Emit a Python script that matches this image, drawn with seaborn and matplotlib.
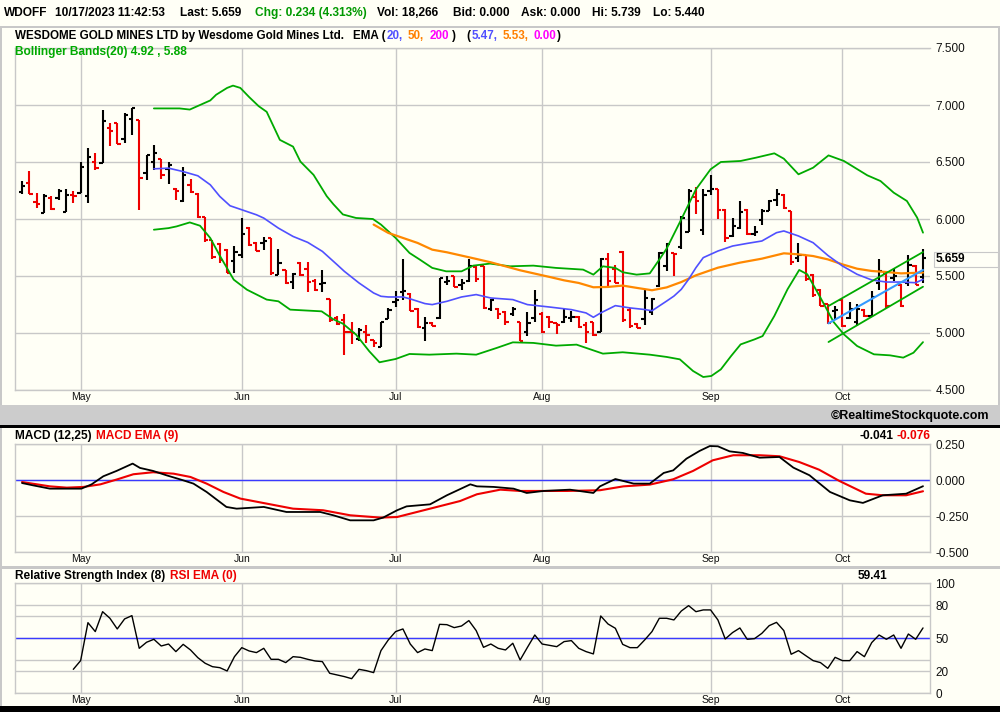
import numpy as np
import pandas as pd
import matplotlib
matplotlib.use("Agg")
import matplotlib.pyplot as plt
import seaborn as sns
from matplotlib.patches import Rectangle

# ---- daily bars (index 0 = first bar on the chart, last = 10/17/2023) ----
bar_open = [6.24, 6.32, 6.15, 6.05, 6.18, 6.18, 6.06, 6.21, 6.23, 6.20,
            6.50, 6.49, 6.80, 6.84, 6.70, 6.88, 6.87, 6.40, 6.50, 6.53,
            6.44, 6.26, 6.16, 6.30, 6.22, 6.02, 5.82, 5.78, 5.73, 5.63,
            5.68, 5.92, 5.79, 5.79, 5.83, 5.51, 5.55, 5.45, 5.61, 5.56,
            5.46, 5.43, 5.30, 5.13, 5.11, 5.01, 4.95, 5.01, 4.94, 4.88,
            5.12, 5.27, 5.36, 5.34, 5.21, 5.04, 5.09, 5.13, 5.45, 5.50,
            5.42, 5.46, 5.58, 5.59, 5.21, 5.21, 5.18, 5.17, 5.10, 5.01,
            5.13, 5.17, 5.14, 5.09, 5.10, 5.13, 5.14, 5.07, 5.10, 5.01,
            5.65, 5.56, 5.71, 5.20, 5.08, 5.12, 5.18, 5.41, 5.59, 5.70,
            5.75, 5.89, 6.19, 5.90, 6.25, 6.26, 6.08, 5.85, 5.92, 6.08,
            5.87, 5.99, 6.07, 6.17, 6.21, 6.07, 5.66, 5.68, 5.51, 5.38,
            5.25, 5.19, 5.29, 5.13, 5.10, 5.20, 5.15, 5.44, 5.53, 5.48,
            5.42, 5.44, 5.59, 5.49]
bar_high = [6.33, 6.42, 6.23, 6.22, 6.20, 6.26, 6.26, 6.25, 6.50, 6.62,
            6.58, 6.96, 6.84, 6.84, 6.93, 6.97, 6.87, 6.56, 6.65, 6.53,
            6.50, 6.27, 6.46, 6.35, 6.23, 6.02, 5.82, 5.79, 5.74, 5.76,
            6.01, 5.93, 5.80, 5.84, 5.83, 5.74, 5.55, 5.53, 5.62, 5.62,
            5.47, 5.55, 5.30, 5.15, 5.17, 5.10, 5.04, 5.07, 4.94, 5.10,
            5.22, 5.37, 5.65, 5.35, 5.22, 5.14, 5.10, 5.48, 5.50, 5.50,
            5.47, 5.65, 5.59, 5.59, 5.30, 5.22, 5.19, 5.23, 5.10, 5.18,
            5.38, 5.18, 5.15, 5.09, 5.22, 5.19, 5.15, 5.10, 5.10, 5.66,
            5.70, 5.60, 5.72, 5.22, 5.09, 5.39, 5.31, 5.71, 5.79, 5.70,
            6.03, 6.26, 6.28, 6.26, 6.39, 6.26, 6.09, 6.01, 6.16, 6.09,
            5.94, 6.09, 6.17, 6.26, 6.22, 6.07, 5.79, 5.68, 5.52, 5.39,
            5.25, 5.24, 5.30, 5.27, 5.25, 5.21, 5.37, 5.65, 5.54, 5.57,
            5.43, 5.68, 5.60, 5.739]
bar_low = [6.22, 6.22, 6.10, 6.05, 6.08, 6.17, 6.06, 6.14, 6.23, 6.14,
           6.43, 6.49, 6.64, 6.66, 6.67, 6.74, 6.08, 6.34, 6.43, 6.35,
           6.31, 6.17, 6.15, 6.23, 6.01, 5.80, 5.65, 5.61, 5.53, 5.53,
           5.66, 5.76, 5.72, 5.73, 5.51, 5.51, 5.43, 5.39, 5.50, 5.36,
           5.37, 5.36, 5.10, 5.07, 4.81, 4.90, 4.93, 4.91, 4.88, 4.88,
           5.12, 5.23, 5.29, 5.19, 5.04, 4.93, 5.06, 5.12, 5.42, 5.40,
           5.38, 5.45, 5.45, 5.21, 5.19, 5.12, 5.07, 5.15, 4.93, 4.97,
           5.10, 5.00, 5.04, 4.99, 5.09, 5.10, 5.04, 4.91, 4.97, 5.01,
           5.41, 5.44, 5.10, 5.04, 5.04, 5.07, 5.16, 5.40, 5.54, 5.50,
           5.74, 5.89, 6.04, 5.86, 6.21, 6.00, 5.80, 5.84, 5.91, 5.86,
           5.85, 5.95, 6.07, 6.11, 6.09, 5.60, 5.62, 5.46, 5.32, 5.24,
           5.08, 5.12, 5.05, 5.12, 5.06, 5.14, 5.14, 5.38, 5.22, 5.46,
           5.23, 5.41, 5.42, 5.44]
bar_close = [6.29, 6.22, 6.13, 6.20, 6.09, 6.25, 6.21, 6.20, 6.46, 6.54,
             6.45, 6.86, 6.77, 6.66, 6.91, 6.97, 6.36, 6.56, 6.58, 6.39,
             6.47, 6.25, 6.39, 6.24, 6.02, 5.82, 5.67, 5.64, 5.53, 5.71,
             5.87, 5.77, 5.72, 5.81, 5.53, 5.61, 5.44, 5.52, 5.505, 5.45,
             5.38, 5.44, 5.11, 5.08, 5.01, 5.00, 5.03, 4.98, 4.91, 5.10,
             5.20, 5.29, 5.37, 5.19, 5.05, 5.09, 5.06, 5.48, 5.46, 5.40,
             5.44, 5.59, 5.47, 5.22, 5.29, 5.17, 5.10, 5.21, 4.93, 5.09,
             5.29, 5.01, 5.10, 5.07, 5.14, 5.14, 5.05, 5.01, 4.98, 5.65,
             5.46, 5.44, 5.11, 5.06, 5.04, 5.31, 5.30, 5.70, 5.78, 5.69,
             6.01, 6.25, 6.16, 6.21, 6.26, 6.08, 5.83, 5.94, 6.06, 5.87,
             5.89, 6.07, 6.16, 6.22, 6.10, 5.62, 5.68, 5.47, 5.33, 5.24,
             5.09, 5.20, 5.06, 5.21, 5.21, 5.15, 5.32, 5.54, 5.24, 5.50,
             5.24, 5.60, 5.425, 5.659]
# u = black bar, d = red bar
bar_dir = ("udduduuduu" "dudduuduud" "ududdddddu" "uddudududd"
           "dudddduddu" "uuudduduud" "uudduddudu" "uddduudddu"
           "ddddduuuud" "uuduudduud" "uuuudduddd" "duduuduudu"
           "dudu")

# ---- indicator lines: (bar index, value) ----
ema20 = [(18, 6.44), (20, 6.446), (22, 6.416), (24, 6.379), (25.7, 6.30), (27, 6.198),
         (28.4, 6.116), (30, 6.081), (32, 6.037), (33, 6.008), (35, 5.92), (37, 5.847),
         (39, 5.795), (41, 5.716), (43, 5.60), (44, 5.541), (46, 5.439), (48, 5.351),
         (49, 5.322), (50, 5.316), (52, 5.316), (53, 5.299), (55, 5.258), (56, 5.249),
         (58, 5.278), (60, 5.316), (62, 5.337), (64, 5.307), (67, 5.293), (69, 5.249),
         (72, 5.228), (75, 5.205), (77, 5.176), (78, 5.138), (79, 5.176), (81, 5.24),
         (83, 5.22), (85, 5.206), (86, 5.195), (88, 5.28), (89, 5.324), (90, 5.383),
         (91, 5.471), (92, 5.573), (93, 5.661), (95, 5.719), (97, 5.763), (99, 5.786),
         (101, 5.807), (103, 5.88), (104, 5.895), (106, 5.851), (108, 5.792), (110, 5.681),
         (112, 5.588), (114, 5.515), (116, 5.465), (118, 5.447), (120, 5.447), (122, 5.441),
         (123, 5.47)]
ema50 = [(48, 5.951), (50, 5.878), (52, 5.834), (54, 5.79), (56, 5.731), (58, 5.708),
         (60, 5.679), (62, 5.65), (64, 5.62), (66, 5.585), (68, 5.55), (70, 5.521),
         (72, 5.492), (74, 5.462), (76, 5.439), (78, 5.401), (80, 5.404), (82, 5.416),
         (84, 5.395), (86, 5.375), (88, 5.40), (90, 5.447), (92, 5.506), (95, 5.573),
         (98, 5.617), (101, 5.652), (104, 5.699), (106, 5.69), (108, 5.675), (110, 5.646),
         (112, 5.602), (114, 5.564), (116, 5.544), (118, 5.535), (120, 5.523), (123, 5.53)]
bb_upper = [(18, 6.97), (21.5, 6.97), (22.9, 6.96), (24.3, 7.0), (25.7, 7.04), (26.5, 7.09),
            (28.0, 7.15), (28.8, 7.17), (29.8, 7.15), (31.0, 7.07), (32.3, 6.99), (33.4, 6.94),
            (35.2, 6.694), (37, 6.635), (38, 6.504), (39.8, 6.387), (41.6, 6.20), (42.5, 6.13),
            (43.8, 6.04), (45.6, 6.009), (47.9, 6.0), (49, 5.951), (51, 5.834), (52.9, 5.702),
            (54.3, 5.644), (56, 5.571), (57.9, 5.541), (60, 5.541), (61.6, 5.591), (63.9, 5.609),
            (66.6, 5.585), (69.8, 5.591), (72.9, 5.571), (76.6, 5.556), (78, 5.512), (79.3, 5.585),
            (81, 5.571), (82, 5.533), (83.9, 5.512), (85.7, 5.523), (87, 5.644), (88, 5.74),
            (90, 5.997), (92, 6.26), (94, 6.436), (95.4, 6.5), (98.1, 6.509), (100.2, 6.538),
            (102.7, 6.576), (104, 6.529), (106, 6.392), (108, 6.45), (110.1, 6.558), (112.2, 6.509),
            (115.4, 6.383), (117.2, 6.333), (119, 6.231), (120.8, 6.158), (122.2, 6.012), (123, 5.88)]
bb_lower = [(18, 5.906), (20, 5.92), (21.1, 5.935), (22.9, 5.97), (24.3, 5.941), (25.7, 5.833),
            (27, 5.678), (28.9, 5.468), (30.7, 5.38), (33.4, 5.293), (35, 5.278), (36.6, 5.205),
            (38, 5.2), (40.9, 5.19), (42.5, 5.12), (43.8, 5.082), (45.6, 4.986), (47.4, 4.84),
            (48.8, 4.743), (51, 4.772), (52.9, 4.816), (55.6, 4.81), (59.3, 4.819), (62, 4.81),
            (64.8, 4.869), (67, 4.918), (69.8, 4.913), (72.9, 4.889), (75.7, 4.898), (79.3, 4.819),
            (82, 4.831), (85.7, 4.81), (88, 4.79), (89.8, 4.769), (91.6, 4.667), (93, 4.614),
            (94.1, 4.623), (95.4, 4.681), (96.8, 4.798), (98.1, 4.9), (100, 4.944), (101.1, 4.973),
            (102.7, 5.149), (104.5, 5.383), (106.1, 5.553), (107.2, 5.515), (109, 5.31), (110.8, 5.096),
            (112.2, 4.988), (114, 4.886), (116.3, 4.813), (118.5, 4.804), (120.3, 4.784), (121.7, 4.827),
            (123, 4.92)]

# trend channel drawn on the chart (start bar, end bar)
trend_x = [110.1, 123]
trend_top = [5.237, 5.71]
trend_mid = [5.085, 5.553]
trend_bot = [4.921, 5.406]

macd = [(0, -0.019), (1.5, -0.035), (3.8, -0.058), (6.1, -0.058), (8.1, -0.058), (9.5, -0.028),
        (11.1, 0.028), (12.9, 0.065), (15.1, 0.116), (16.1, 0.086), (17.9, 0.065), (19.7, 0.035),
        (22, 0.0), (23.4, -0.023), (25.2, -0.081), (27.9, -0.185), (29.3, -0.197), (33, -0.185),
        (36.1, -0.22), (40.7, -0.22), (42.5, -0.243), (44.8, -0.278), (48, -0.278), (49.3, -0.259),
        (51.2, -0.208), (52.5, -0.181), (55.7, -0.167), (58, -0.104), (61.2, -0.028), (62.1, -0.042),
        (64.4, -0.046), (67.1, -0.058), (68.9, -0.088), (71.2, -0.074), (74.8, -0.065), (78, -0.088),
        (78.9, -0.042), (81, 0.009), (83.5, -0.023), (85.7, -0.023), (87.6, 0.051), (88.9, 0.069),
        (90.7, 0.15), (92.5, 0.204), (93.9, 0.238), (95, 0.236), (96.6, 0.201), (98.4, 0.19),
        (100.7, 0.157), (103.4, 0.162), (105.3, 0.088), (107.5, 0.035), (110.3, -0.081), (113, -0.139),
        (114.8, -0.157), (117.5, -0.104), (120.7, -0.093), (123, -0.041)]
macd_signal = [(0, -0.012), (3.8, -0.042), (6.1, -0.051), (8.4, -0.046), (10.7, -0.028), (12.9, 0.005),
               (15.2, 0.042), (17.9, 0.056), (20.7, 0.046), (23, 0.023), (25.2, -0.023), (27.5, -0.081),
               (29.8, -0.127), (33.4, -0.162), (37, -0.197), (41.1, -0.208), (44.8, -0.243), (48.9, -0.259),
               (51.2, -0.255), (55.7, -0.197), (59.8, -0.144), (62.1, -0.097), (65.3, -0.065), (68, -0.074),
               (74.4, -0.074), (78.9, -0.069), (82.1, -0.042), (85.7, -0.03), (88.9, 0.007), (91.6, 0.065),
               (94.3, 0.139), (97.1, 0.174), (100.7, 0.174), (103.4, 0.167), (106.1, 0.127), (108.8, 0.074),
               (111.6, -0.005), (115.2, -0.093), (117.5, -0.104), (120.7, -0.104), (123, -0.076)]

# RSI(8), one value per bar starting at bar 7
rsi_first_bar = 7
rsi = [21.8, 29.7, 64.2, 56.1, 74.2, 68.2, 58.5, 67.6, 70.6, 40.9,
       46.4, 49.1, 43.0, 44.8, 37.9, 44.5, 39.4, 32.4, 27.3, 24.2,
       23.3, 20.3, 33.3, 41.5, 38.5, 37.0, 40.9, 30.9, 30.9, 27.9,
       33.3, 32.7, 30.9, 29.4, 28.8, 18.2, 16.7, 15.2, 13.3, 21.8,
       20.6, 18.8, 38.8, 48.5, 56.1, 58.5, 44.8, 37.0, 40.3, 38.8,
       62.7, 62.4, 59.7, 61.2, 66.1, 57.0, 41.8, 44.8, 40.9, 39.4,
       45.5, 30.3, 41.8, 53.0, 44.8, 43.6, 42.4, 47.0, 47.9, 40.9,
       37.9, 35.8, 70.3, 63.0, 59.1, 44.5, 41.5, 41.5, 48.5, 56.1,
       68.2, 68.2, 66.7, 74.8, 79.7, 74.2, 75.8, 75.8, 66.7, 49.4,
       55.2, 59.4, 49.1, 49.7, 54.5, 61.5, 64.5, 57.0, 35.5, 38.8,
       34.2, 29.7, 27.9, 22.7, 32.7, 29.7, 29.7, 37.9, 33.3, 46.1,
       53.0, 49.1, 53.0, 40.9, 53.9, 49.1, 59.41]

month_names = ["May", "Jun", "Jul", "Aug", "Sep", "Oct"]
month_bars = [8, 30, 51, 71, 94, 112]

price_ticks = [4.5, 5.0, 5.5, 6.0, 6.5, 7.0, 7.5]
macd_ticks = [-0.5, -0.25, 0.0, 0.25]
rsi_ticks = [0, 20, 50, 80, 100]
rsi_minor = [30, 70]

W, H = 1000, 712
BG = "#FFFFF6"
GRID = "#C8C8C8"
UP = "#000000"
DOWN = "#EE0000"
XLIM = (-0.96, 124.0)


def px_axes(fig, left, top, right, bottom):
    ax = fig.add_axes([left / W, 1 - bottom / H, (right - left) / W, (bottom - top) / H])
    ax.set_facecolor(BG)
    return ax


def ftext(fig, x, y, s, color="black", size=8.6, weight="bold", ha="left"):
    return fig.text(x / W, 1 - y / H, s, color=color, fontsize=size, fontweight=weight,
                    ha=ha, va="center")


def text_run(fig, x, y, pieces, size=8.6):
    # pieces laid out one after another; gap = extra pixels before a piece
    renderer = fig.canvas.get_renderer()
    for s, c, gap in pieces:
        x += gap
        t = ftext(fig, x, y, s, color=c, size=size)
        x += t.get_window_extent(renderer).width


def frect(fig, x0, y0, x1, y1, color, edge="none"):
    fig.add_artist(Rectangle((x0 / W, 1 - y1 / H), (x1 - x0) / W, (y1 - y0) / H,
                             transform=fig.transFigure, fc=color, ec=edge, lw=0.8))


def panel_style(ax, yticks, ylabels, frame=True):
    ax.set_xlim(*XLIM)
    ax.set_xticks(month_bars, month_names)
    ax.set_yticks(yticks, ylabels)
    ax.yaxis.tick_right()
    ax.tick_params(axis="x", length=0, pad=1.5, labelsize=7.5, colors="#111111")
    ax.tick_params(axis="y", which="both", length=0, pad=3.5, labelsize=8.5, colors="#111111")
    ax.grid(True, color=GRID, lw=1.0)
    ax.set_axisbelow(True)
    for side, sp in ax.spines.items():
        sp.set_color(GRID)
        sp.set_linewidth(1.0)
        if not frame and side == "right":
            sp.set_visible(False)


def main():
    sns.set_style("white")
    plt.rcParams["font.family"] = ["Liberation Sans", "DejaVu Sans"]

    fig = plt.figure(figsize=(W / 100, H / 100), dpi=100)
    fig.patch.set_facecolor(BG)

    x = np.arange(len(bar_close))
    right_px = 15 + (XLIM[1] - XLIM[0]) * 7.325

    # ---------- price panel ----------
    ax = px_axes(fig, 15, 48, right_px, 390)
    colors = [UP if d == "u" else DOWN for d in bar_dir]
    ax.vlines(x, bar_low, bar_high, colors=colors, lw=1.5, zorder=3)
    ax.hlines(bar_open, x - 0.45, x, colors=colors, lw=1.5, zorder=3)
    ax.hlines(bar_close, x, x + 0.45, colors=colors, lw=1.5, zorder=3)

    for series, col, lw in [(bb_upper, "#00AA00", 1.3), (bb_lower, "#00AA00", 1.3),
                            (ema50, "#FF8800", 1.6), (ema20, "#5050FF", 1.2)]:
        sns.lineplot(x=[p[0] for p in series], y=[p[1] for p in series], ax=ax,
                     color=col, lw=lw, zorder=4)
    sns.lineplot(x=trend_x, y=trend_top, ax=ax, color="#00AA00", lw=1.3, zorder=5)
    sns.lineplot(x=trend_x, y=trend_bot, ax=ax, color="#00AA00", lw=1.3, zorder=5)
    sns.lineplot(x=trend_x, y=trend_mid, ax=ax, color="#3399FF", lw=1.5, zorder=5)
    ax.set_ylim(4.5, 7.5)
    panel_style(ax, price_ticks, [f"{v:.3f}" for v in price_ticks], frame=False)
    ax.set_xlabel("")
    ax.set_ylabel("")

    # ---------- MACD panel ----------
    ax2 = px_axes(fig, 15, 444.3, right_px, 552.3)
    ax2.axhline(0, color="#3A3AFF", lw=1.0, zorder=2)
    sns.lineplot(x=[p[0] for p in macd_signal], y=[p[1] for p in macd_signal], ax=ax2,
                 color=DOWN, lw=1.5, zorder=3)
    sns.lineplot(x=[p[0] for p in macd], y=[p[1] for p in macd], ax=ax2,
                 color=UP, lw=1.3, zorder=4)
    ax2.set_ylim(-0.5, 0.25)
    panel_style(ax2, macd_ticks, [f"{v:.3f}" for v in macd_ticks])
    ax2.set_xlabel("")
    ax2.set_ylabel("")

    # ---------- RSI panel ----------
    ax3 = px_axes(fig, 15, 583.3, right_px, 693.3)
    ax3.axhline(50, color="#3A3AFF", lw=1.0, zorder=2)
    rsi_df = pd.DataFrame({"bar": np.arange(rsi_first_bar, rsi_first_bar + len(rsi)), "rsi": rsi})
    sns.lineplot(data=rsi_df, x="bar", y="rsi", ax=ax3, color=UP, lw=1.0, zorder=3)
    ax3.set_ylim(0, 100)
    panel_style(ax3, rsi_ticks, [str(v) for v in rsi_ticks])
    ax3.set_yticks(rsi_minor, minor=True)
    ax3.tick_params(axis="y", which="minor", length=0)
    ax3.grid(True, which="minor", axis="y", color=GRID, lw=1.0)
    ax3.set_xlabel("")
    ax3.set_ylabel("")

    # last price box on the right axis
    fig.canvas.draw()
    y_last = fig.transFigure.inverted().transform(ax.transData.transform((0, bar_close[-1])))[1]
    yl = (1 - y_last) * H + 1.5
    frect(fig, 934, yl - 7.5, 998, yl + 7.5, BG, edge=GRID)
    ftext(fig, 935.5, yl, f"{bar_close[-1]:.3f}", size=8.6)

    # ---------- frame pieces ----------
    frect(fig, 0, 26, 1000, 27.5, GRID)
    frect(fig, 0, 27, 1.5, 706, GRID)
    frect(fig, 998, 27, 1000, 405, GRID)
    frect(fig, 0, 405, 1000, 425, "#CCCCCC")
    frect(fig, 0, 425, 1000, 428, "#000000")
    frect(fig, 0, 566, 1000, 568.5, GRID)
    frect(fig, 0, 706, 1000, 712, "#000000")

    # ---------- header texts ----------
    for xp, s, c in [(4, "WDOFF", "black"), (55, "10/17/2023 11:42:53", "black"),
                     (180, "Last: 5.659", "black"), (255, "Chg: 0.234 (4.313%)", "#009900"),
                     (377, "Vol: 18,266", "black"), (453, "Bid: 0.000", "black"),
                     (521, "Ask: 0.000", "black"), (592, "Hi: 5.739", "black"),
                     (653, "Lo: 5.440", "black")]:
        ftext(fig, xp, 13, s, color=c)

    ftext(fig, 15, 36, "WESDOME GOLD MINES LTD by Wesdome Gold Mines Ltd.", size=8.35)
    text_run(fig, 353, 36, [("EMA (", "black", 0), ("20,", "#5050FF", 1),
                            ("50,", "#FF8000", 5), ("200", "#FF00FF", 5), (")", "black", 3),
                            ("(", "black", 11), ("5.47,", "#5050FF", 1),
                            ("5.53,", "#FF8000", 5), ("0.00", "#FF00FF", 5), (")", "black", 1)],
             size=8.35)
    ftext(fig, 15, 52, "Bollinger Bands(20) 4.92 , 5.88", color="#00AA00")

    ftext(fig, 989, 416, "\u00a9RealtimeStockquote.com", ha="right", size=9)

    ftext(fig, 15, 436, "MACD (12,25)")
    ftext(fig, 96, 436, "MACD EMA (9)", color=DOWN)
    ftext(fig, 893, 436, f"{macd[-1][1]:.3f}", ha="right")
    ftext(fig, 930, 436, f"{macd_signal[-1][1]:.3f}", color=DOWN, ha="right")

    ftext(fig, 15, 576, "Relative Strength Index (8)")
    ftext(fig, 170, 576, "RSI EMA (0)", color=DOWN)
    ftext(fig, 887, 576, f"{rsi[-1]:.2f}", ha="right")

    fig.savefig("out.png", dpi=100, facecolor=BG)


if __name__ == "__main__":
    main()
